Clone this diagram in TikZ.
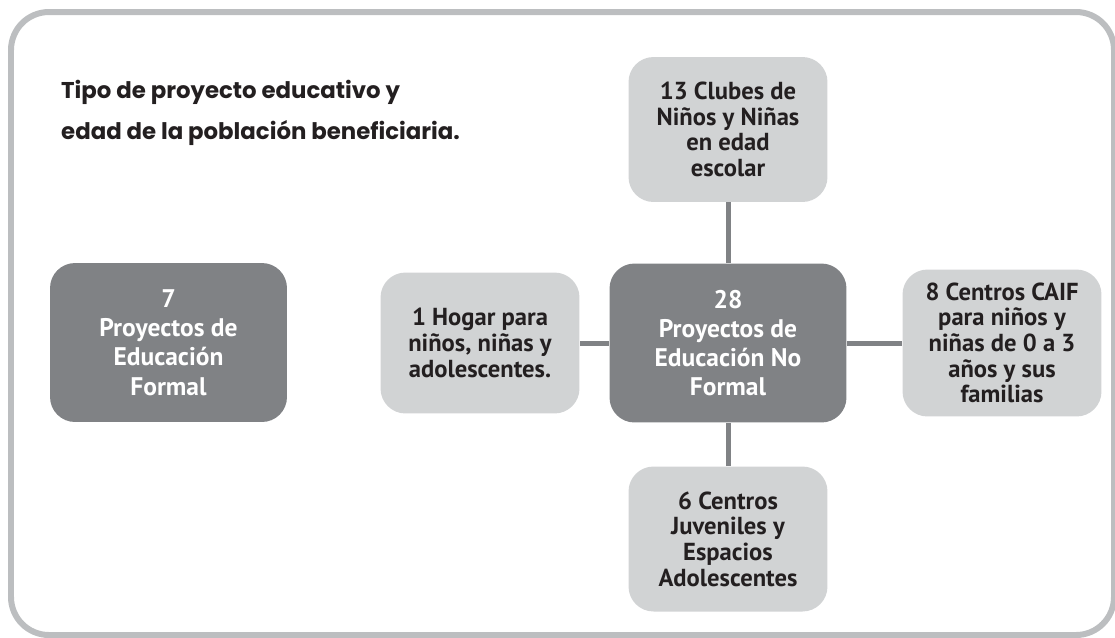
\documentclass[tikz,border=0pt]{standalone}
\usepackage{fontspec}
\setmainfont{PT Sans}
\newfontfamily\titolofont{Poppins}
\definecolor{grigioscuro}{HTML}{808285}
\definecolor{grigiochiaro}{HTML}{D1D3D4}
\definecolor{cornice}{HTML}{BCBEC0}
\definecolor{testo}{HTML}{231F20}
\tikzset{
  scuro/.style={fill=grigioscuro, text=white, rounded corners=0.5cm,
    minimum width=4.74cm, minimum height=3.18cm, align=center,
    font=\bfseries\fontsize{14.5}{16.6}\selectfont},
  chiaro/.style={fill=grigiochiaro, text=testo, rounded corners=0.5cm,
    minimum width=3.98cm, minimum height=2.9cm, align=center,
    font=\bfseries\fontsize{14}{14.6}\selectfont},
  linea/.style={grigioscuro, line width=0.1cm}
}
\begin{document}
\begin{tikzpicture}[x=0.02cm,y=-0.02cm]
        \useasboundingbox (0,0) rectangle (1115,637);
        % cornice
        \draw[cornice, line width=0.12cm, rounded corners=0.76cm] (11,12) rectangle (1114,635);

        % titolo
        \node[anchor=north west, align=left, text=testo,
          font=\titolofont\bfseries\fontsize{13}{23.2}\selectfont] (titolo) at (55,74)
          {Tipo de proyecto educativo y\\edad de la población beneficiaria.};

        % riquadri scuri
        \node[scuro] (formal) at (168.5,342.5) {7\\Proyectos de\\Educación\\Formal};
        \node[scuro] (noformal) at (728,343) {28\\Proyectos de\\Educación No\\Formal};

        % riquadri chiari
        \node[chiaro] (clubes) at (728,129.5) {13 Clubes de\\Niños y Niñas\\en edad\\escolar};
        \node[chiaro, minimum height=2.82cm] (hogar) at (480,343) {1 Hogar para\\niños, niñas y\\adolescentes.};
        \node[chiaro, minimum height=2.94cm] (caif) at (1002,343) {8 Centros CAIF\\para niños y\\niñas de 0 a 3\\años y sus\\familias};
        \node[chiaro] (juveniles) at (728,539) {6 Centros\\Juveniles y\\Espacios\\Adolescentes};

        % collegamenti
        \draw[linea] (noformal) -- (clubes);
        \draw[linea] (noformal) -- (hogar);
        \draw[linea] (noformal) -- (caif);
        \draw[linea] (noformal) -- (juveniles);
\end{tikzpicture}
\end{document}
